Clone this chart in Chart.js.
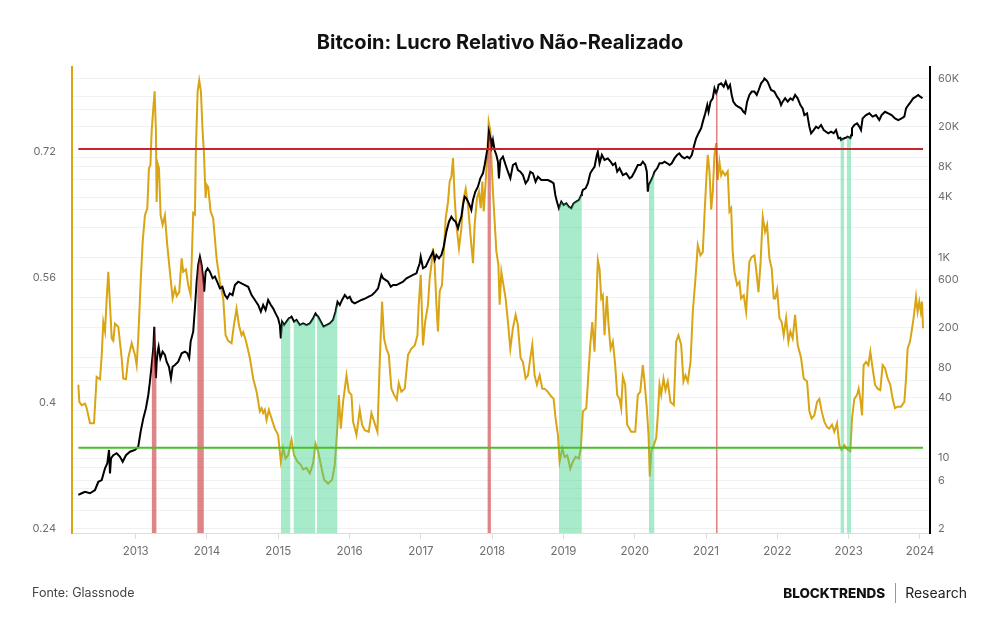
<!DOCTYPE html>
<html lang="pt">
<head>
<meta charset="utf-8">
<title>Bitcoin: Lucro Relativo Não-Realizado</title>
<script src="https://cdn.jsdelivr.net/npm/chart.js@4.4.1/dist/chart.umd.min.js"></script>
<style>
  body { margin: 0; background: #fff; }
  #wrap { position: relative; width: 1000px; height: 630px; background: #fff; font-family: Inter, 'Noto Sans', sans-serif; }
  #c { position: absolute; left: 0; top: 0; }
  #title { position: absolute; left: 0; top: 30px; width: 1000px; text-align: center; font-weight: 700; font-size: 20px; line-height: 24px; color: #111; }
  #src { position: absolute; left: 32px; top: 585px; font-size: 12.5px; line-height: 16px; color: #444; }
  #brand { position: absolute; right: 33px; top: 583px; display: flex; align-items: center; font-size: 14px; line-height: 20px; color: #222; }
  #brand b { font-weight: 800; font-size: 13.5px; letter-spacing: 0; color: #111; }
  #brand .sep { display: inline-block; width: 1px; height: 20px; background: #999; margin: 0 9px 0 10px; }
</style>
</head>
<body>
<div id="wrap">
  <canvas id="c" width="1000" height="630"></canvas>
  <div id="title">Bitcoin: Lucro Relativo Não-Realizado</div>
  <div id="src">Fonte: Glassnode</div>
  <div id="brand"><b>BLOCKTRENDS</b><span class="sep"></span><span>Research</span></div>
</div>
<script>
// ── Dados ────────────────────────────────────────────────────────────────

// Lucro relativo não-realizado (eixo esquerdo) — [ano decimal, valor]
const rup = [
  [2012.196,0.423],[2012.21,0.401],[2012.243,0.397],[2012.29,0.399],[2012.313,0.393],[2012.36,0.374],[2012.416,0.374],
  [2012.453,0.433],[2012.5,0.43],[2012.524,0.461],[2012.546,0.503],[2012.57,0.491],[2012.594,0.533],[2012.616,0.567],
  [2012.64,0.525],[2012.664,0.482],[2012.686,0.479],[2012.71,0.501],[2012.756,0.497],[2012.804,0.457],[2012.826,0.431],
  [2012.864,0.43],[2012.896,0.457],[2012.944,0.476],[2012.99,0.461],[2013.014,0.448],[2013.036,0.482],[2013.07,0.554],
  [2013.098,0.605],[2013.13,0.639],[2013.163,0.648],[2013.186,0.699],[2013.207,0.703],[2013.224,0.746],[2013.247,0.775],
  [2013.266,0.797],[2013.284,0.746],[2013.294,0.656],[2013.308,0.705],[2013.327,0.699],[2013.35,0.639],[2013.378,0.627],
  [2013.41,0.639],[2013.443,0.601],[2013.48,0.567],[2013.518,0.533],[2013.551,0.546],[2013.575,0.536],[2013.611,0.541],
  [2013.645,0.584],[2013.667,0.567],[2013.705,0.57],[2013.737,0.55],[2013.771,0.537],[2013.807,0.642],[2013.831,0.64],
  [2013.845,0.724],[2013.869,0.797],[2013.891,0.811],[2013.915,0.797],[2013.939,0.746],[2013.957,0.72],[2013.981,0.661],
  [2013.995,0.678],[2014.017,0.675],[2014.051,0.644],[2014.087,0.635],[2014.135,0.584],[2014.181,0.554],[2014.228,0.533],
  [2014.261,0.486],[2014.298,0.479],[2014.345,0.476],[2014.378,0.499],[2014.415,0.52],[2014.448,0.499],[2014.485,0.486],
  [2014.508,0.49],[2014.546,0.479],[2014.602,0.457],[2014.648,0.431],[2014.696,0.414],[2014.742,0.389],[2014.766,0.393],
  [2014.788,0.387],[2014.812,0.391],[2014.836,0.378],[2014.868,0.391],[2014.906,0.38],[2014.952,0.367],[2014.998,0.359],
  [2015.036,0.325],[2015.068,0.342],[2015.102,0.329],[2015.138,0.333],[2015.186,0.353],[2015.222,0.333],[2015.27,0.325],
  [2015.316,0.321],[2015.349,0.315],[2015.396,0.317],[2015.443,0.31],[2015.489,0.323],[2015.522,0.348],[2015.559,0.338],
  [2015.597,0.321],[2015.643,0.302],[2015.699,0.297],[2015.755,0.302],[2015.793,0.321],[2015.831,0.372],[2015.849,0.41],
  [2015.877,0.367],[2015.909,0.401],[2015.957,0.435],[2015.989,0.414],[2016.027,0.41],[2016.049,0.376],[2016.097,0.359],
  [2016.143,0.391],[2016.175,0.372],[2016.213,0.365],[2016.269,0.363],[2016.307,0.387],[2016.344,0.376],[2016.391,0.363],
  [2016.423,0.452],[2016.456,0.529],[2016.484,0.482],[2016.517,0.469],[2016.55,0.461],[2016.587,0.418],[2016.624,0.41],
  [2016.662,0.404],[2016.69,0.425],[2016.727,0.414],[2016.774,0.418],[2016.82,0.461],[2016.868,0.469],[2016.914,0.473],
  [2016.952,0.486],[2016.97,0.525],[2016.998,0.563],[2017.03,0.473],[2017.06,0.503],[2017.1,0.525],[2017.124,0.559],
  [2017.148,0.576],[2017.17,0.597],[2017.194,0.576],[2017.218,0.525],[2017.24,0.491],[2017.264,0.542],[2017.296,0.55],
  [2017.32,0.588],[2017.348,0.635],[2017.381,0.656],[2017.404,0.682],[2017.428,0.688],[2017.451,0.712],[2017.474,0.661],
  [2017.498,0.627],[2017.535,0.597],[2017.568,0.622],[2017.591,0.656],[2017.629,0.673],[2017.661,0.652],[2017.708,0.601],
  [2017.731,0.578],[2017.755,0.627],[2017.787,0.661],[2017.815,0.669],[2017.839,0.648],[2017.863,0.682],[2017.881,0.644],
  [2017.909,0.682],[2017.933,0.72],[2017.951,0.758],[2017.975,0.746],[2017.993,0.703],[2018.011,0.669],[2018.035,0.631],
  [2018.059,0.593],[2018.087,0.576],[2018.105,0.525],[2018.129,0.567],[2018.151,0.554],[2018.189,0.533],[2018.221,0.503],
  [2018.255,0.469],[2018.291,0.495],[2018.329,0.512],[2018.361,0.499],[2018.399,0.457],[2018.432,0.452],[2018.469,0.431],
  [2018.502,0.435],[2018.535,0.457],[2018.563,0.474],[2018.595,0.435],[2018.628,0.423],[2018.666,0.435],[2018.703,0.418],
  [2018.736,0.418],[2018.782,0.414],[2018.83,0.408],[2018.862,0.405],[2018.89,0.38],[2018.922,0.359],[2018.946,0.325],
  [2018.984,0.342],[2019.016,0.331],[2019.054,0.333],[2019.096,0.316],[2019.132,0.325],[2019.17,0.331],[2019.216,0.329],
  [2019.244,0.342],[2019.272,0.389],[2019.32,0.393],[2019.376,0.474],[2019.404,0.503],[2019.436,0.465],[2019.46,0.525],
  [2019.482,0.582],[2019.506,0.571],[2019.53,0.533],[2019.552,0.537],[2019.576,0.486],[2019.609,0.536],[2019.633,0.499],
  [2019.661,0.469],[2019.693,0.478],[2019.726,0.448],[2019.754,0.41],[2019.787,0.405],[2019.81,0.393],[2019.833,0.433],
  [2019.866,0.423],[2019.894,0.372],[2019.95,0.363],[2020.007,0.363],[2020.043,0.41],[2020.077,0.414],[2020.113,0.448],
  [2020.137,0.427],[2020.169,0.393],[2020.193,0.359],[2020.211,0.306],[2020.231,0.338],[2020.267,0.346],[2020.301,0.355],
  [2020.323,0.384],[2020.347,0.423],[2020.371,0.41],[2020.403,0.431],[2020.431,0.416],[2020.463,0.427],[2020.501,0.401],
  [2020.548,0.397],[2020.581,0.478],[2020.613,0.486],[2020.651,0.474],[2020.683,0.427],[2020.711,0.435],[2020.744,0.427],
  [2020.782,0.452],[2020.814,0.516],[2020.852,0.559],[2020.884,0.601],[2020.922,0.588],[2020.954,0.592],[2020.978,0.639],
  [2021.002,0.682],[2021.024,0.716],[2021.048,0.695],[2021.072,0.646],[2021.094,0.669],[2021.118,0.716],[2021.142,0.731],
  [2021.164,0.684],[2021.188,0.707],[2021.212,0.69],[2021.234,0.695],[2021.268,0.69],[2021.304,0.695],[2021.328,0.644],
  [2021.352,0.648],[2021.374,0.592],[2021.398,0.567],[2021.436,0.55],[2021.468,0.554],[2021.492,0.533],[2021.529,0.537],
  [2021.562,0.516],[2021.585,0.55],[2021.608,0.58],[2021.641,0.586],[2021.678,0.588],[2021.702,0.571],[2021.735,0.541],
  [2021.763,0.576],[2021.795,0.637],[2021.828,0.618],[2021.856,0.627],[2021.889,0.584],[2021.921,0.571],[2021.949,0.533],
  [2021.969,0.533],[2021.997,0.544],[2022.029,0.508],[2022.061,0.503],[2022.089,0.486],[2022.123,0.508],[2022.155,0.478],
  [2022.183,0.491],[2022.215,0.482],[2022.249,0.512],[2022.285,0.474],[2022.333,0.457],[2022.369,0.431],[2022.417,0.427],
  [2022.449,0.389],[2022.481,0.38],[2022.519,0.384],[2022.557,0.401],[2022.589,0.405],[2022.622,0.389],[2022.659,0.376],
  [2022.697,0.369],[2022.729,0.367],[2022.767,0.372],[2022.799,0.363],[2022.837,0.374],[2022.869,0.346],[2022.901,0.34],
  [2022.939,0.346],[2022.986,0.34],[2023.024,0.338],[2023.047,0.38],[2023.08,0.405],[2023.118,0.41],[2023.14,0.418],
  [2023.164,0.405],[2023.188,0.384],[2023.21,0.448],[2023.244,0.452],[2023.276,0.448],[2023.304,0.465],[2023.336,0.444],
  [2023.37,0.423],[2023.406,0.418],[2023.444,0.416],[2023.476,0.448],[2023.51,0.444],[2023.547,0.431],[2023.584,0.423],
  [2023.617,0.405],[2023.65,0.393],[2023.687,0.395],[2023.734,0.395],[2023.781,0.401],[2023.805,0.431],[2023.827,0.469],
  [2023.861,0.478],[2023.883,0.491],[2023.911,0.508],[2023.945,0.535],[2023.967,0.516],[2023.991,0.529],[2024.012,0.516],
  [2024.029,0.529],[2024.043,0.495]
]

// Preço do bitcoin em USD (eixo direito, log) — [ano decimal, preço]
const price = [
  [2012.196,4.3],[2012.243,4.47],[2012.29,4.63],[2012.36,4.47],[2012.43,4.82],[2012.476,5.82],[2012.524,6.05],
  [2012.57,7.92],[2012.602,8.89],[2012.626,12.06],[2012.64,7.06],[2012.654,9.96],[2012.686,10.7],[2012.734,11.2],
  [2012.78,10.3],[2012.818,9.2],[2012.864,10.7],[2012.92,11.6],[2012.99,12.1],[2013.036,13],[2013.07,18.4],
  [2013.107,24.9],[2013.144,31.4],[2013.177,42.6],[2013.2,57.8],[2013.224,84.7],[2013.247,124],[2013.261,204],
  [2013.275,85],[2013.284,62.5],[2013.294,90],[2013.308,115],[2013.322,129],[2013.346,98.9],[2013.378,115],
  [2013.41,107],[2013.434,91.5],[2013.467,81.5],[2013.495,62.5],[2013.518,81.5],[2013.551,84.7],[2013.597,91.5],
  [2013.645,111],[2013.691,115],[2013.723,111],[2013.751,98.9],[2013.771,145],[2013.807,182],[2013.831,311],
  [2013.855,573],[2013.863,650],[2013.877,841],[2013.901,1017],[2013.925,841],[2013.947,620],[2013.957,530],
  [2013.961,456],[2013.981,721],[2014.009,780],[2014.041,721],[2014.079,620],[2014.111,645],[2014.143,573],
  [2014.181,492],[2014.216,510],[2014.251,422],[2014.284,391],[2014.321,439],[2014.359,422],[2014.392,531],
  [2014.438,573],[2014.485,551],[2014.532,531],[2014.578,510],[2014.626,422],[2014.672,377],[2014.718,336],
  [2014.756,288],[2014.788,336],[2014.822,299],[2014.858,377],[2014.896,336],[2014.928,311],[2014.962,277],
  [2014.998,247],[2015.022,212],[2015.036,156],[2015.054,229],[2015.082,212],[2015.116,229],[2015.148,247],
  [2015.172,252],[2015.186,257],[2015.214,235],[2015.222,229],[2015.256,238],[2015.302,212],[2015.349,220],
  [2015.396,212],[2015.443,220],[2015.489,247],[2015.522,277],[2015.541,265],[2015.559,257],[2015.597,229],
  [2015.634,204],[2015.676,212],[2015.723,220],[2015.769,238],[2015.803,288],[2015.831,362],[2015.863,336],
  [2015.895,377],[2015.933,422],[2015.971,391],[2016.003,406],[2016.035,362],[2016.073,349],[2016.119,362],
  [2016.167,377],[2016.223,391],[2016.269,406],[2016.316,422],[2016.363,456],[2016.4,492],[2016.423,573],
  [2016.447,669],[2016.47,620],[2016.503,597],[2016.54,573],[2016.578,510],[2016.61,531],[2016.657,531],
  [2016.704,552],[2016.75,573],[2016.798,620],[2016.844,645],[2016.89,669],[2016.938,695],[2016.96,780],
  [2016.984,875],[2016.998,1017],[2017.03,780],[2017.068,810],[2017.1,909],[2017.134,1017],[2017.17,1140],
  [2017.194,944],[2017.218,1057],[2017.254,980],[2017.288,1057],[2017.32,1280],[2017.358,1803],[2017.394,2270],
  [2017.428,2547],[2017.46,2360],[2017.488,2270],[2017.521,1950],[2017.544,2270],[2017.568,2547],[2017.591,3325],
  [2017.614,4030],[2017.638,3880],[2017.661,3600],[2017.684,3325],[2017.708,2970],[2017.731,3730],[2017.764,4520],
  [2017.801,5070],[2017.834,6140],[2017.871,6890],[2017.895,8340],[2017.919,10490],[2017.933,12000],[2017.941,13200],
  [2017.955,17900],[2017.975,15400],[2017.983,14000],[2017.993,12700],[2018.011,14800],[2018.035,11700],[2018.059,10490],
  [2018.081,8990],[2018.095,6140],[2018.115,9350],[2018.151,10090],[2018.189,8340],[2018.221,7150],[2018.255,6140],
  [2018.291,8340],[2018.329,8670],[2018.361,7430],[2018.395,7150],[2018.431,6620],[2018.469,5470],[2018.502,5900],
  [2018.535,7150],[2018.572,6890],[2018.609,5680],[2018.642,6370],[2018.689,5900],[2018.736,5900],[2018.782,5900],
  [2018.83,5680],[2018.862,5470],[2018.886,4190],[2018.908,3600],[2018.936,3090],[2018.97,3600],[2019.002,3325],
  [2019.04,3460],[2019.076,3200],[2019.11,3090],[2019.142,3460],[2019.18,3600],[2019.216,3730],[2019.25,4190],
  [2019.258,4400],[2019.272,4700],[2019.31,4880],[2019.342,5470],[2019.376,6890],[2019.404,7430],[2019.436,8000],
  [2019.468,10490],[2019.482,11300],[2019.506,8670],[2019.539,10490],[2019.576,9350],[2019.622,9700],[2019.661,8990],
  [2019.693,8340],[2019.726,8670],[2019.754,7150],[2019.787,7730],[2019.833,6620],[2019.881,6890],[2019.927,6140],
  [2019.959,6370],[2019.997,7150],[2020.043,8340],[2020.081,8340],[2020.113,8990],[2020.147,8340],[2020.169,7150],
  [2020.183,4520],[2020.197,5270],[2020.231,5900],[2020.253,6370],[2020.277,7150],[2020.315,7730],[2020.347,8670],
  [2020.385,8670],[2020.418,8990],[2020.456,8670],[2020.489,8340],[2020.519,8670],[2020.557,9700],[2020.594,10490],
  [2020.625,10890],[2020.66,10090],[2020.697,9700],[2020.735,10090],[2020.768,9700],[2020.8,10490],[2020.828,12700],
  [2020.861,15400],[2020.894,17260],[2020.931,19370],[2020.955,22550],[2020.989,27300],[2021.017,33000],[2021.035,28300],
  [2021.063,35650],[2021.094,38550],[2021.118,48400],[2021.137,44000],[2021.142,43200],[2021.164,48000],[2021.174,52300],
  [2021.212,54300],[2021.248,50300],[2021.276,56400],[2021.309,48400],[2021.336,52300],[2021.36,41600],[2021.382,35650],
  [2021.416,33000],[2021.448,31800],[2021.492,30600],[2021.524,28300],[2021.548,27300],[2021.576,35650],[2021.608,41600],
  [2021.641,44900],[2021.678,44900],[2021.711,41600],[2021.738,46600],[2021.772,54300],[2021.809,58600],[2021.818,60800],
  [2021.842,58600],[2021.863,56400],[2021.912,46600],[2021.958,44900],[2021.996,40000],[2022.029,37100],[2022.052,33000],
  [2022.075,35650],[2022.109,38550],[2022.145,35650],[2022.183,38550],[2022.215,37100],[2022.249,41600],[2022.285,38550],
  [2022.323,33000],[2022.355,30600],[2022.379,26200],[2022.417,27300],[2022.449,20100],[2022.473,17260],[2022.509,18600],
  [2022.543,20100],[2022.575,19370],[2022.613,20900],[2022.65,18600],[2022.683,17900],[2022.715,17260],[2022.753,17900],
  [2022.79,17260],[2022.823,18600],[2022.856,15400],[2022.884,15600],[2022.893,14800],[2022.939,15400],[2022.972,15700],
  [2022.986,15960],[2023.024,15400],[2023.034,16500],[2023.047,19370],[2023.08,20900],[2023.118,21700],[2023.15,20100],
  [2023.173,18600],[2023.196,24300],[2023.244,26200],[2023.29,27300],[2023.336,25300],[2023.384,26200],[2023.43,23400],
  [2023.462,26200],[2023.51,28300],[2023.556,27300],[2023.602,26200],[2023.65,24300],[2023.696,23400],[2023.743,24300],
  [2023.781,25300],[2023.805,30600],[2023.837,33000],[2023.874,35650],[2023.906,38550],[2023.944,40000],[2023.976,41600],
  [2024.004,40000],[2024.036,38550]
]

// Limiares do indicador
const topThreshold = 0.7236
const bottomThreshold = 0.3428

// Períodos acima do limiar superior (vermelho) e abaixo do inferior (verde)
const redPeriods = [[2013.224, 2013.294], [2013.863, 2013.957], [2017.933, 2017.983], [2021.137, 2021.164]]
const greenPeriods = [
  [2015.036, 2015.172], [2015.214, 2015.522], [2015.541, 2015.831],
  [2018.936, 2019.258], [2020.197, 2020.277], [2022.884, 2022.939], [2022.972, 2023.034]
]

// Ticks
const yearTicks = [2013, 2014, 2015, 2016, 2017, 2018, 2019, 2020, 2021, 2022, 2023, 2024]
const rupTicks = [0.24, 0.4, 0.56, 0.72]
const priceTicks = [2, 6, 10, 40, 80, 200, 600, 1000, 4000, 8000, 20000, 60000]
const priceTickLabels = ['2', '6', '10', '40', '80', '200', '600', '1K', '4K', '8K', '20K', '60K']
const priceGrid = [3, 4, 5, 8, 20, 30, 60, 100, 300, 400, 2000, 3000, 6000, 10000, 30000, 40000]

// ── Helpers ──────────────────────────────────────────────────────────────

const pts = arr => arr.map(([x, y]) => ({ x, y }))

function bandDataset (range, color) {
  const [s, e] = range
  return {
    type: 'line',
    data: pts(price.filter(([x]) => x >= s - 1e-6 && x <= e + 1e-6)),
    yAxisID: 'yPrice',
    borderWidth: 0,
    pointRadius: 0,
    tension: 0,
    fill: 'start',
    backgroundColor: color,
    order: 1
  }
}

const x0 = rup[0][0]
const x1 = rup[rup.length - 1][0]
const tickFont = { family: 'Inter', size: 11 }

// ── Gráfico ──────────────────────────────────────────────────────────────

new Chart(document.getElementById('c'), {
  type: 'line',
  data: {
    datasets: [
      {
        label: 'Limiar superior',
        data: pts([[x0, topThreshold], [x1, topThreshold]]),
        yAxisID: 'yRup', borderColor: '#c3262c', borderWidth: 2, pointRadius: 0, order: 0
      },
      {
        label: 'Limiar inferior',
        data: pts([[x0, bottomThreshold], [x1, bottomThreshold]]),
        yAxisID: 'yRup', borderColor: '#4cbe2a', borderWidth: 2, pointRadius: 0, order: 0
      },
      ...redPeriods.map(r => bandDataset(r, 'rgba(200, 45, 45, 0.58)')),
      ...greenPeriods.map(r => bandDataset(r, 'rgba(60, 210, 140, 0.45)')),
      {
        label: 'Preço',
        data: pts(price),
        yAxisID: 'yPrice', borderColor: '#000', borderWidth: 2, pointRadius: 0, tension: 0, order: 2
      },
      {
        label: 'RUP',
        data: pts(rup),
        yAxisID: 'yRup', borderColor: '#d9a514', borderWidth: 2, pointRadius: 0, tension: 0, order: 3
      }
    ]
  },
  options: {
    responsive: false,
    animation: false,
    devicePixelRatio: 1,
    layout: { padding: { top: 67, left: 0, right: 0, bottom: 0 } },
    plugins: { legend: { display: false }, tooltip: { enabled: false }, title: { display: false } },
    scales: {
      x: {
        type: 'linear',
        min: 2012.107,
        max: 2024.141,
        afterBuildTicks: s => { s.ticks = yearTicks.map(v => ({ value: v })) },
        afterFit: s => { s.height = 97 },
        ticks: { color: '#6e6e6e', font: { family: 'Inter', size: 11.5 }, padding: 6, callback: v => String(v), autoSkip: false, maxRotation: 0 },
        grid: { drawOnChartArea: false, drawTicks: true, tickLength: 6, color: '#dcdcdc' },
        border: { color: '#dcdcdc', width: 1 }
      },
      yRup: {
        type: 'linear',
        position: 'left',
        min: 0.234,
        max: 0.828,
        afterBuildTicks: s => { s.ticks = rupTicks.map(v => ({ value: v })) },
        afterFit: s => { s.width = 72 },
        ticks: { color: '#6e6e6e', font: tickFont, padding: 8, autoSkip: false, callback: v => String(v) },
        grid: { display: false },
        border: { color: '#d9a514', width: 2 }
      },
      yPrice: {
        type: 'logarithmic',
        position: 'right',
        min: 1.796,
        max: 78990,
        afterBuildTicks: s => {
          s.ticks = [...priceTicks, ...priceGrid].sort((a, b) => a - b).map(v => ({ value: v }))
        },
        afterFit: s => { s.width = 70 },
        ticks: {
          color: '#6e6e6e', font: tickFont, padding: 8, autoSkip: false,
          callback: v => {
            const i = priceTicks.indexOf(v)
            return i >= 0 ? priceTickLabels[i] : ''
          }
        },
        grid: { color: 'rgba(0,0,0,0.055)', drawTicks: false },
        border: { color: '#000', width: 2 }
      }
    }
  }
})
</script>
</body>
</html>
